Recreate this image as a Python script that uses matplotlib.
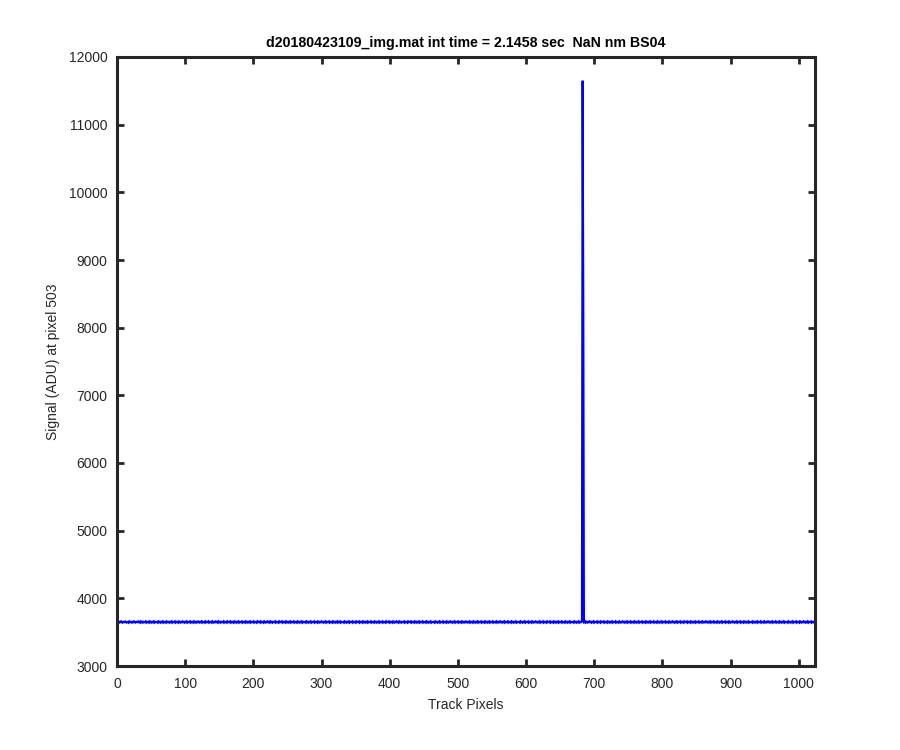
import numpy as np
import matplotlib
matplotlib.use("Agg")
from matplotlib import pyplot as plt

plt.rcParams['font.family'] = ['Liberation Sans', 'DejaVu Sans']
plt.rcParams['path.simplify'] = False

# baseline readings, one digit per track pixel (signal = 3623 + 6*digit)
baseline_digits = (
    "4535464354465345364453546435546453645354463545364535463544536453"
    "5463545364453546354463545364354645354635446354536453546435463545"
    "3645463545364354645364535446354536454635453645354635446354536453"
    "5463544635453645463545364354645364535446354536454635453645354635"
    "4463545364535463544536453546354463545364354645354635446354536453"
    "5463546354453645354635446354536454635453645354635446354536453546"
    "3544635453645463545364354645364535446354536454635453645354635446"
    "3545364535463544536453546354463545364354645354635446354536453546"
    "4354635453645354635446354536453546354463545364354645354635446354"
    "5364535463544536453546354463545364354645354635446354536454635453"
    "6453546354463545364535463544536453546354463545364354645354635446"
    "3545364546354536453546354463545364354645354635446354536453546354"
    "4635453645354635446354536453546354463545364354645354635446354536"
    "4546354536453546354463545364354645354635446354536453546354463545"
    "3643546453546354463545364535463544536453546354463545364354645354"
    "6354463545364535463544536453546354463545364354645354635446354536"
)
spike_pixels = [683, 684]
spike_values = [11650, 8560]

track_pixels = np.arange(1, len(baseline_digits) + 1)
signal = 3623 + 6 * np.array([int(c) for c in baseline_digits], dtype=float)
for p, v in zip(spike_pixels, spike_values):
    signal[p - 1] = v

fig = plt.figure(figsize=(9, 7.5), dpi=100)
ax = fig.add_axes([0.13, 0.112, 0.7756, 0.812])
ax.plot(track_pixels, signal, color=(0, 0, 1), linewidth=1.5,
        solid_joinstyle='miter')

ax.set_xlim(0, 1024)
ax.set_ylim(3000, 12000)
ax.set_xticks(np.arange(0, 1001, 100))
ax.set_yticks(np.arange(3000, 12001, 1000))
ax.tick_params(direction='in', top=True, right=True, length=5, width=2,
               labelsize=10, colors='#262626')
ax.tick_params(axis='x', pad=8)
ax.tick_params(axis='y', pad=7)
for s in ax.spines.values():
    s.set_linewidth(2.2)
    s.set_color('#262626')

ax.set_xlabel('Track Pixels', fontsize=10, color='#262626', labelpad=5)
ax.set_ylabel('Signal (ADU) at pixel 503', fontsize=10, color='#262626',
              labelpad=6)
ax.set_title('d20180423109_img.mat int time = 2.1458 sec  NaN nm BS04',
             fontsize=10.2, fontweight='bold', color='black', pad=7)

fig.savefig('out.png', dpi=100)
